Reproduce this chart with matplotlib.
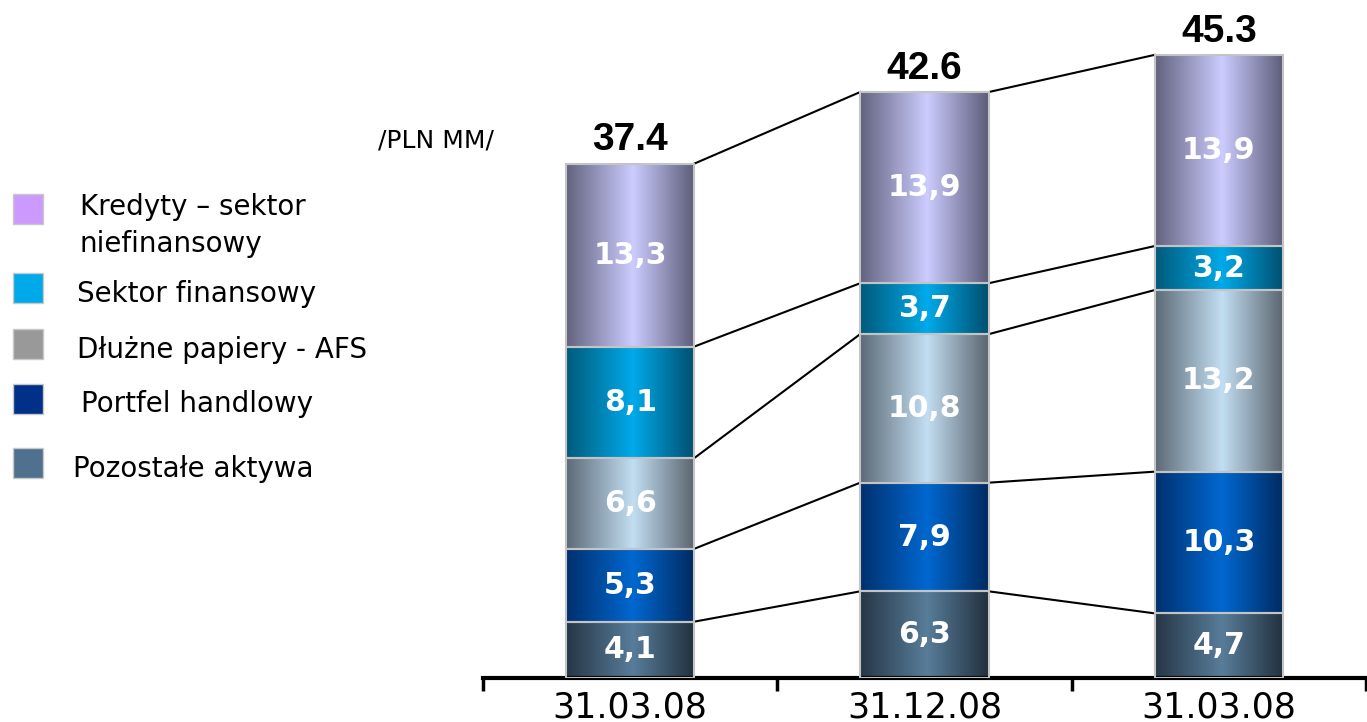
import numpy as np
import matplotlib.pyplot as plt
from matplotlib.colors import LinearSegmentedColormap
from matplotlib.patches import Rectangle

categories = ['31.03.08', '31.12.08', '31.03.08']
pozostale = [4.1, 6.3, 4.7]
portfel = [5.3, 7.9, 10.3]
dluzne = [6.6, 10.8, 13.2]
sektor_fin = [8.1, 3.7, 3.2]
kredyty = [13.3, 13.9, 13.9]
totals = [37.4, 42.6, 45.3]

legend_labels = ['Kredyty – sektor\nniefinansowy', 'Sektor finansowy',
                 'Dłużne papiery - AFS', 'Portfel handlowy', 'Pozostałe aktywa']

W, H = 1367, 722


def px(xp, yp):
    # pixel (from top-left) -> figure fraction
    return xp / W, 1 - yp / H


fig = plt.figure(figsize=(W / 100, H / 100), dpi=100)
ax = fig.add_axes([483 / W, (H - 678) / H, 883 / W, 674 / H])

# stacked from bottom: (values, left edge, centre, right edge)
series = [
    (pozostale, '#263646', '#587d9a', '#22303e'),
    (portfel, '#00306e', '#0068d0', '#002a60'),
    (dluzne, '#5c6a76', '#c2def2', '#5a646e'),
    (sektor_fin, '#005a7a', '#00aaea', '#004e6e'),
    (kredyty, '#62627e', '#ccccff', '#5c5c78'),
]

x = np.arange(len(categories))
bar_w = 0.437
grad = np.linspace(0, 1, 256).reshape(1, -1)
bottom = np.zeros(len(categories))
levels = []
for vals, c_l, c_m, c_r in series:
    vals = np.array(vals)
    cmap = LinearSegmentedColormap.from_list('g', [(0, c_l), (0.52, c_m), (1, c_r)])
    for i in range(len(x)):
        y0, y1 = bottom[i], bottom[i] + vals[i]
        ax.imshow(grad, cmap=cmap, aspect='auto', zorder=2,
                  extent=[x[i] - bar_w / 2, x[i] + bar_w / 2, y0, y1])
        ax.add_patch(Rectangle((x[i] - bar_w / 2, y0), bar_w, vals[i], fill=False,
                               ec='#c4c4c4', lw=1.5, zorder=3))
        ax.text(x[i], (y0 + y1) / 2, f'{vals[i]:.1f}'.replace('.', ','),
                ha='center', va='center', color='white', fontsize=21.5,
                fontweight='bold', family='DejaVu Sans', zorder=4)
    bottom = bottom + vals
    levels.append(bottom.copy())

# connector lines between neighbouring bars
for lev in levels:
    for i in range(len(x) - 1):
        ax.plot([x[i] + bar_w / 2, x[i + 1] - bar_w / 2], [lev[i], lev[i + 1]],
                color='black', lw=1.5, zorder=1)

for i, t in enumerate(totals):
    ax.annotate(f'{t:.1f}', (x[i], t), xytext=(0, 9.5), textcoords='offset points',
                ha='center', va='baseline', fontsize=28, fontweight='bold',
                family='Liberation Sans', fontstretch='normal')

ax.set_xlim(-0.5, 2.5)
ax.set_ylim(0, 49)
for s in ['left', 'right', 'top']:
    ax.spines[s].set_visible(False)
ax.spines['bottom'].set_linewidth(3)
ax.set_yticks([])
ax.set_xticks([-0.5, 0.5, 1.5, 2.5], ['', '', '', ''])
ax.set_xticks(x, categories, minor=True)
ax.tick_params(axis='x', which='major', length=9, width=2.5, direction='out')
ax.tick_params(axis='x', which='minor', length=0, pad=9, labelsize=25)
ax.set_facecolor('none')

fig.text(*px(378, 140), '/PLN MM/', fontsize=18, ha='left', va='center')

# legend drawn by hand
leg_colors = ['#cc99ff', '#00aaea', '#999999', '#003087', '#4f708f']
box_y = [209, 288, 344, 399, 463]
text_x = [80, 77, 77, 81, 73]
text_base = [215, 302, 358, 412, 477]
for lab, c, by, tx, tb in zip(legend_labels, leg_colors, box_y, text_x, text_base):
    fx, fy = px(13, by + 15)
    fig.add_artist(Rectangle((fx, fy), 30 / W, 30 / H, transform=fig.transFigure,
                             fc=c, ec='#c8c8c8', lw=1))
    lines = lab.split('\n')
    for k, ln in enumerate(lines):
        fig.text(*px(tx, tb + 37 * k), ln, fontsize=20, ha='left', va='baseline')

fig.savefig('out.png', dpi=100)
